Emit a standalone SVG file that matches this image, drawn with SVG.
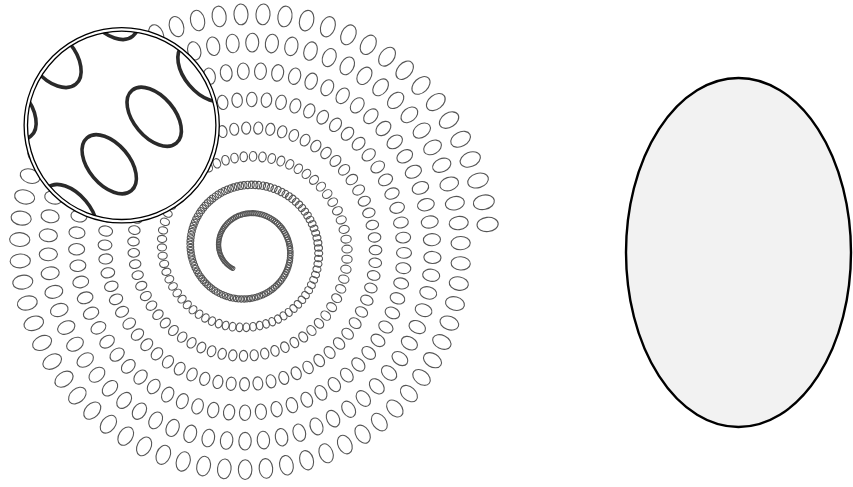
<svg xmlns="http://www.w3.org/2000/svg" width="853" height="487" viewBox="0 0 853 487">
<style>
.sp{fill:none;stroke:#555;stroke-width:1.1}
.mg{fill:none;stroke:#2b2b2b;stroke-width:3.6}
.ring{fill:none;stroke:#000;stroke-width:1.3}
</style>
<defs>
<ellipse id="e" class="sp" rx="2" ry="1.3" style="--i:calc(var(--a) + 8*var(--b) + 64*var(--c));--u:clamp(0, var(--i) - 158, 65);--w:max(0, var(--i) - 223);--t:calc(5.34 + 0.055*var(--i) + 0.000346*var(--u)*var(--u) + 0.0462*var(--w) - 0.00001117*var(--w)*var(--w));--r:calc(4.53*var(--t));--q:calc(0.9 + 0.045*var(--r) - 0.00002*var(--r)*var(--r));transform:rotate(calc(var(--t)*1rad + 180deg)) translate(calc(var(--r)*1px));rx:calc(var(--q)*1px);ry:calc(var(--q)*(0.82 - 0.0006*var(--r))*1px)"/>
<g id="g8">
<use href="#e" style="--a:0"/><use href="#e" style="--a:1"/><use href="#e" style="--a:2"/><use href="#e" style="--a:3"/>
<use href="#e" style="--a:4"/><use href="#e" style="--a:5"/><use href="#e" style="--a:6"/><use href="#e" style="--a:7"/>
</g>
<g id="g64">
<use href="#g8" style="--b:0"/><use href="#g8" style="--b:1"/><use href="#g8" style="--b:2"/><use href="#g8" style="--b:3"/>
<use href="#g8" style="--b:4"/><use href="#g8" style="--b:5"/><use href="#g8" style="--b:6"/><use href="#g8" style="--b:7"/>
</g>
<clipPath id="lens"><circle cx="121.7" cy="125.3" r="94.2"/></clipPath>
<filter id="soft" x="-10%" y="-10%" width="120%" height="120%"><feGaussianBlur stdDeviation="0.7"/></filter>
</defs>
<g id="spiral" transform="translate(247.4,249)">
<use href="#g64" style="--c:0"/><use href="#g64" style="--c:1"/><use href="#g64" style="--c:2"/>
<use href="#g64" style="--c:3"/><use href="#g64" style="--c:4"/><use href="#g64" style="--c:5"/>
<use href="#g64" style="--c:6"/><use href="#g64" style="--c:7"/><use href="#g64" style="--c:8"/>
</g>
<g id="magnifier">
<circle class="ring" cx="121.7" cy="125.3" r="97.6" style="fill:#fff"/>
<g clip-path="url(#lens)">
<g filter="url(#soft)">
<ellipse class="mg" cx="154.2" cy="116.7" rx="34.5" ry="20.5" transform="rotate(50 154.2 116.7)"/>
<ellipse class="mg" cx="109.2" cy="164.2" rx="34.5" ry="20.5" transform="rotate(50 109.2 164.2)"/>
<ellipse class="mg" cx="205" cy="72" rx="34.5" ry="20.5" transform="rotate(50 205 72)"/>
<ellipse class="mg" cx="70" cy="214" rx="34.5" ry="20.5" transform="rotate(50 70 214)"/>
<ellipse class="mg" cx="110" cy="9" rx="35.5" ry="21.5" transform="rotate(50 110 9)"/>
<ellipse class="mg" cx="53" cy="57" rx="35.5" ry="21.5" transform="rotate(50 53 57)"/>
<ellipse class="mg" cx="8" cy="109" rx="35.5" ry="21.5" transform="rotate(50 8 109)"/>
</g>
</g>
<circle class="ring" cx="121.7" cy="125.3" r="94.2"/>
</g>
<g id="big-ellipse">
<ellipse cx="738.5" cy="252.5" rx="112.5" ry="174.5" fill="#f2f2f2" stroke="#000" stroke-width="2.4"/>
</g>
</svg>
